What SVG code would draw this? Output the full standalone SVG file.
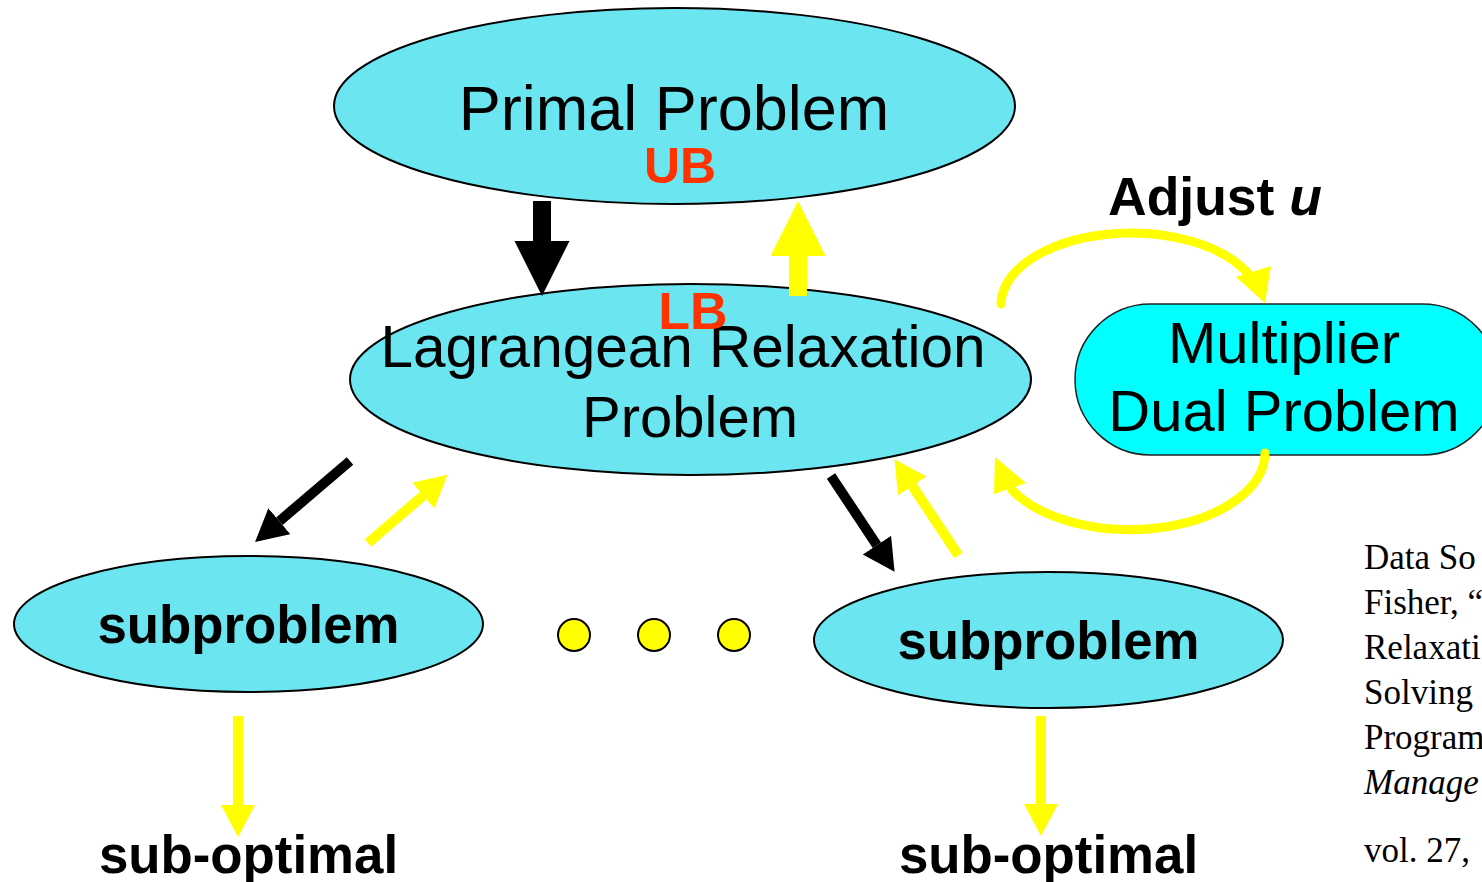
<svg xmlns="http://www.w3.org/2000/svg" width="1482" height="882" viewBox="0 0 1482 882">
  <style>
    .node { fill: #6BE6F0; stroke: #000; stroke-width: 2; }
    .pill { fill: #00FFFF; stroke: #222; stroke-width: 1.5; }
    .t { font-family: "Liberation Sans", Arial, sans-serif; fill: #000; text-anchor: middle; }
    .b { font-weight: bold; }
    .red { fill: #FF3300; font-weight: bold; }
    .cite { font-family: "Liberation Serif", "Times New Roman", serif; font-size: 35px; fill: #000; }
    .blk { stroke: #000; fill: none; }
    .yel { stroke: #FFFF00; fill: none; }
    .dot { fill: #FFFF00; stroke: #000; stroke-width: 2; }
  </style>
  <defs>
    <marker id="headBigBlack" markerUnits="userSpaceOnUse" markerWidth="56" markerHeight="56" refX="0" refY="27.5" orient="auto">
      <path d="M0,0 L55,27.5 L0,55 z" fill="#000"/>
    </marker>
    <marker id="headBigYellow" markerUnits="userSpaceOnUse" markerWidth="56" markerHeight="56" refX="0" refY="27.5" orient="auto">
      <path d="M0,0 L55,27.5 L0,55 z" fill="#FFFF00"/>
    </marker>
    <marker id="headBlack" markerUnits="userSpaceOnUse" markerWidth="36" markerHeight="36" refX="0" refY="17" orient="auto">
      <path d="M0,0 L32,17 L0,34 z" fill="#000"/>
    </marker>
    <marker id="headYellow" markerUnits="userSpaceOnUse" markerWidth="36" markerHeight="36" refX="0" refY="17" orient="auto">
      <path d="M0,0 L32,17 L0,34 z" fill="#FFFF00"/>
    </marker>
  </defs>

  <rect width="1482" height="882" fill="#fff"/>

  <g id="primal">
    <ellipse class="node" cx="674.5" cy="106" rx="340.5" ry="98"/>
    <text class="t" x="674" y="130" font-size="63">Primal Problem</text>
    <text class="t red" x="680" y="183" font-size="50">UB</text>
  </g>

  <g id="lagrangean">
    <ellipse class="node" cx="690.5" cy="379.5" rx="340.5" ry="95.5"/>
    <text class="t" x="683" y="367" font-size="58.5">Lagrangean Relaxation</text>
    <text class="t" x="690" y="437" font-size="58">Problem</text>
    <text class="t red" x="693" y="329" font-size="52">LB</text>
  </g>

  <g id="multiplier">
    <rect class="pill" x="1075" y="304" width="423" height="151" rx="75.5" ry="75.5"/>
    <text class="t" x="1284" y="363" font-size="58">Multiplier</text>
    <text class="t" x="1284" y="431" font-size="58">Dual Problem</text>
  </g>

  <g id="adjust-label">
    <text class="t b" x="1215" y="215" font-size="53.5">Adjust <tspan font-style="italic">u</tspan></text>
  </g>

  <g id="sub-left">
    <ellipse class="node" cx="248.5" cy="624" rx="234.5" ry="68"/>
    <text class="t b" x="248.5" y="643" font-size="52.8">subproblem</text>
  </g>

  <g id="sub-right">
    <ellipse class="node" cx="1048.5" cy="640" rx="234.5" ry="68"/>
    <text class="t b" x="1048.5" y="659" font-size="52.8">subproblem</text>
  </g>

  <g id="ellipsis">
    <circle class="dot" cx="574" cy="635" r="16"/>
    <circle class="dot" cx="654" cy="635" r="16"/>
    <circle class="dot" cx="734" cy="635" r="16"/>
  </g>

  <g id="result-left">
    <text class="t b" x="248.5" y="873" font-size="52.8">sub-optimal</text>
  </g>

  <g id="result-right">
    <text class="t b" x="1048.5" y="873" font-size="52.8">sub-optimal</text>
  </g>

  <g id="connectors">
    <!-- primal <-> relaxation -->
    <line class="blk" x1="542" y1="201" x2="542" y2="241" stroke-width="18" marker-end="url(#headBigBlack)"/>
    <line class="yel" x1="798" y1="296" x2="798" y2="256" stroke-width="18" marker-end="url(#headBigYellow)"/>
    <!-- relaxation <-> subproblems -->
    <line class="blk" x1="350" y1="461" x2="279.4" y2="521.2" stroke-width="10" marker-end="url(#headBlack)"/>
    <line class="yel" x1="368" y1="543" x2="423.2" y2="495.6" stroke-width="10" marker-end="url(#headYellow)"/>
    <line class="blk" x1="831" y1="476" x2="876.9" y2="545.2" stroke-width="10" marker-end="url(#headBlack)"/>
    <line class="yel" x1="958.5" y1="555.5" x2="912.2" y2="485.8" stroke-width="10" marker-end="url(#headYellow)"/>
    <!-- subproblems -> results -->
    <line class="yel" x1="238" y1="716" x2="238" y2="805" stroke-width="10" marker-end="url(#headYellow)"/>
    <line class="yel" x1="1041" y1="716" x2="1041" y2="804" stroke-width="10" marker-end="url(#headYellow)"/>
    <!-- multiplier loop -->
    <path class="yel" d="M1001,304 A130,72 0 0 1 1250,276" stroke-width="9" stroke-linecap="round"/>
    <polygon points="1236,277 1271,266 1265,303" fill="#FFFF00"/>
    <path class="yel" d="M1265,453 A135,77 0 0 1 1012,490" stroke-width="9" stroke-linecap="round"/>
    <polygon points="995,457 994,494 1026,483" fill="#FFFF00"/>
  </g>

  <g id="source-note">
    <text class="cite" x="1364" y="569">Data So</text>
    <text class="cite" x="1364" y="614">Fisher, “</text>
    <text class="cite" x="1364" y="659">Relaxati</text>
    <text class="cite" x="1364" y="704">Solving</text>
    <text class="cite" x="1364" y="749">Program</text>
    <text class="cite" x="1364" y="794" font-style="italic">Manage</text>
    <text class="cite" x="1364" y="862">vol. 27,</text>
  </g>
</svg>
